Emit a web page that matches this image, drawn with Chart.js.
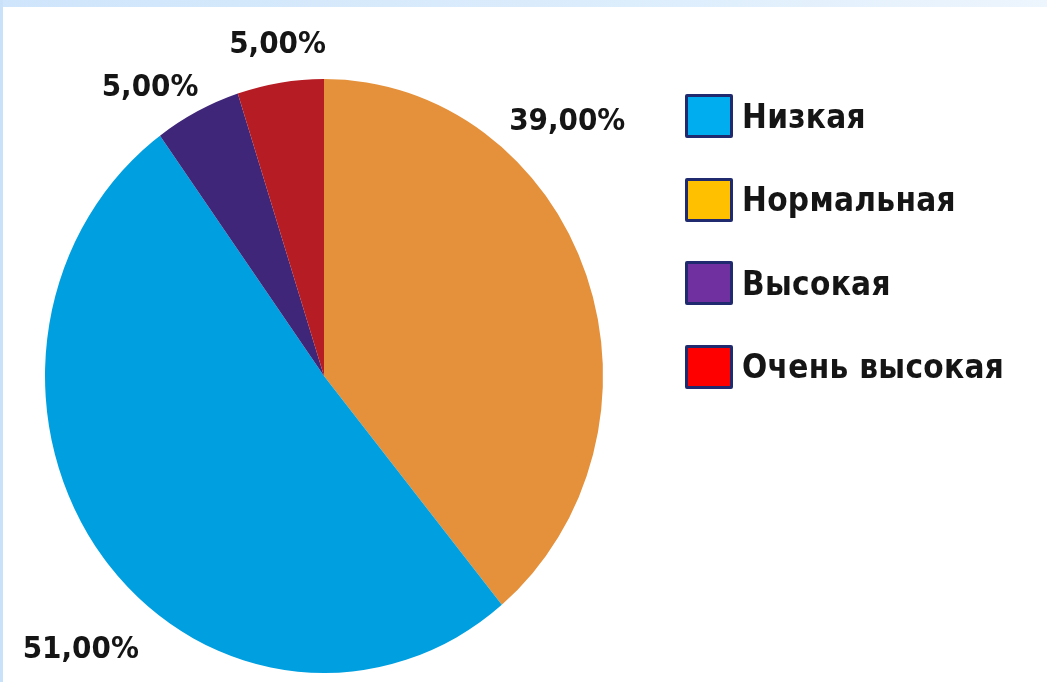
<!DOCTYPE html>
<html lang="ru">
<head>
<meta charset="utf-8">
<title>Pie</title>
<script src="https://cdn.jsdelivr.net/npm/chart.js@4.4.1/dist/chart.umd.min.js"></script>
<style>
  html, body { margin: 0; padding: 0; background: #fff; }
  #wrap { position: relative; width: 1047px; height: 682px; overflow: hidden; background: #fff; }
  #topband { position: absolute; left: 0; top: 0; width: 1047px; height: 7px;
    background: linear-gradient(to right, #cfe5fb, #dcedfc 60%, #edf5fd); }
  #leftband { position: absolute; left: 0; top: 0; width: 3px; height: 682px; background: #c9e2fa; }
  #pie { position: absolute; left: 0; top: 0; }
  #legend { position: absolute; left: 685px; top: 94px; }
  .item { display: flex; align-items: center; height: 44px; margin-bottom: 39.5px; }
  .box { width: 42px; height: 38px; border: 3px solid #1f2b6e; border-radius: 2px; margin-right: 9px; }
  .txt { font-family: "DejaVu Sans Condensed", "Liberation Sans Narrow", "DejaVu Sans", sans-serif;
    font-stretch: condensed; font-weight: bold; font-size: 33px; letter-spacing: 0.3px; color: #151515; }
</style>
</head>
<body>
<div id="wrap">
  <div id="topband"></div>
  <div id="leftband"></div>
  <canvas id="pie" width="1047" height="682"></canvas>
  <div id="legend"></div>
</div>
<script>
// categories in legend order
const categories = ['Низкая', 'Нормальная', 'Высокая', 'Очень высокая'];
const values = [51, 39, 5, 5];
const valueLabels = ['51,00%', '39,00%', '5,00%', '5,00%'];
const sliceColors = ['#009fe0', '#e5903a', '#3f2678', '#b61c23'];
const legendColors = ['#00aeef', '#ffc000', '#7030a0', '#ff0000'];
// the pie is drawn clockwise from 12 o'clock in this order
const drawOrder = [1, 0, 2, 3];

// pie is a little taller than wide in the original
const stretchY = 297 / 279;

const stretchPlugin = {
  id: 'stretch',
  beforeDatasetsDraw(chart) {
    const arc = chart.getDatasetMeta(0).data[0];
    const ctx = chart.ctx;
    ctx.save();
    ctx.translate(0, arc.y);
    ctx.scale(1, stretchY);
    ctx.translate(0, -arc.y);
  },
  afterDatasetsDraw(chart) {
    chart.ctx.restore();
  }
};

const labelPlugin = {
  id: 'pctLabels',
  afterDraw(chart, args, opts) {
    const ctx = chart.ctx;
    const meta = chart.getDatasetMeta(0);
    ctx.save();
    ctx.font = 'bold 31px "DejaVu Sans Condensed", "Liberation Sans Narrow", "DejaVu Sans", sans-serif';
    ctx.letterSpacing = '0px';
    ctx.fillStyle = '#151515';
    ctx.textAlign = 'center';
    ctx.textBaseline = 'middle';
    meta.data.forEach((arc, i) => {
      const mid = (arc.startAngle + arc.endAngle) / 2 + opts.shift[i] * Math.PI / 180;
      const r = arc.outerRadius + opts.gap[i];
      const x = arc.x + Math.cos(mid) * r;
      const y = arc.y + Math.sin(mid) * r * stretchY;
      ctx.fillText(opts.text[i], x, y);
    });
    ctx.restore();
  }
};

const pieLabels = drawOrder.map(i => categories[i]);
const pieValues = drawOrder.map(i => values[i]);
const pieColors = drawOrder.map(i => sliceColors[i]);
const pieText = drawOrder.map(i => valueLabels[i]);

new Chart(document.getElementById('pie').getContext('2d'), {
  type: 'pie',
  data: {
    labels: pieLabels,
    datasets: [{
      data: pieValues,
      backgroundColor: pieColors,
      borderWidth: 0
    }]
  },
  options: {
    responsive: false,
    animation: false,
    layout: { padding: { left: 45, right: 444, top: 97, bottom: 27 } },
    plugins: {
      legend: { display: false },
      tooltip: { enabled: false },
      pctLabels: {
        text: pieText,
        shift: [-24.7, -8.8, -5.7, 0.5],
        gap: [62, 75, 43, 35]
      }
    }
  },
  plugins: [stretchPlugin, labelPlugin]
});

// legend
const legend = document.getElementById('legend');
categories.forEach((c, i) => {
  const item = document.createElement('div');
  item.className = 'item';
  const box = document.createElement('div');
  box.className = 'box';
  box.style.background = legendColors[i];
  const txt = document.createElement('span');
  txt.className = 'txt';
  txt.textContent = c;
  item.appendChild(box);
  item.appendChild(txt);
  legend.appendChild(item);
});
</script>
</body>
</html>
